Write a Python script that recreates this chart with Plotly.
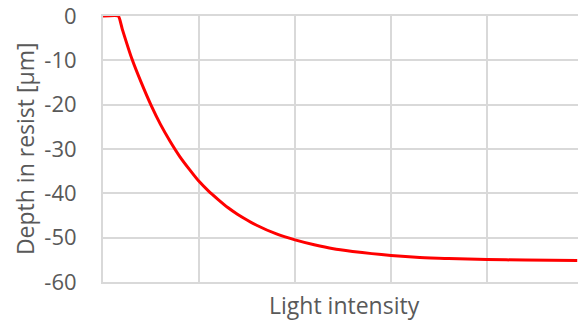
import plotly.graph_objects as go

# Depth profile of exposure in the resist versus light intensity
intensity = [0.0, 0.16, 0.2, 0.3, 0.4, 0.5, 0.6, 0.7, 0.8, 0.9, 1.0, 1.1, 1.2, 1.3, 1.4,
             1.5, 1.6, 1.8, 2.0, 2.2, 2.4, 2.6, 2.8, 3.0, 3.3, 3.6, 4.0, 4.4, 4.94]
depth = [0.0, 0.0, -2.9, -9.6, -15.1, -20.1, -24.5, -28.3, -31.7, -34.6, -37.3, -39.5,
         -41.4, -43.2, -44.7, -46.0, -47.2, -49.1, -50.5, -51.6, -52.5, -53.1, -53.6,
         -54.0, -54.5, -54.7, -54.95, -55.05, -55.15]

y_ticks = [-60, -50, -40, -30, -20, -10, 0]
y_labels = ["-60", "-50", "-40", "-30", "-20", "-10", "0"]

grid = "#D9D9D9"
text_col = "#595959"
font_family = "Open Sans, Liberation Sans, sans-serif"

fig = go.Figure()
fig.add_trace(go.Scatter(
    x=intensity, y=depth, mode="lines",
    line=dict(color="#FF0000", width=3, shape="spline", smoothing=0.4),
    cliponaxis=False, hoverinfo="skip", showlegend=False,
))

fig.update_layout(
    width=578, height=321,
    margin=dict(l=103, r=0, t=16, b=39),
    paper_bgcolor="white", plot_bgcolor="white",
    font=dict(family=font_family, color=text_col, size=22),
    xaxis=dict(
        range=[0, 4.948], tickmode="linear", dtick=1, tick0=0,
        showgrid=True, gridcolor=grid, gridwidth=2,
        zeroline=False, showticklabels=False, ticks="",
        # frame lines along the bottom (-60) and top (0) of the plot
        showline=True, mirror=True, linecolor=grid, linewidth=2,
        layer="below traces",
    ),
    yaxis=dict(
        range=[-60, 0], tickmode="array", tickvals=y_ticks, ticktext=y_labels,
        showgrid=True, gridcolor=grid, gridwidth=2,
        zeroline=False,
        showline=True, linecolor=grid, linewidth=2, layer="below traces",
        ticks="outside", ticklen=20, tickcolor="rgba(0,0,0,0)",
        ticklabeloverflow="allow",
        tickfont=dict(size=22, color=text_col),
    ),
    annotations=[
        dict(text="Light intensity", xref="paper", yref="paper",
             x=0.508, y=-0.086, xanchor="center", yanchor="middle",
             showarrow=False, font=dict(size=23, color=text_col)),
        dict(text="Depth in resist [µm]", xref="paper", yref="paper",
             x=-0.164, y=0.5, xanchor="center", yanchor="middle", textangle=-90,
             showarrow=False, font=dict(size=23, color=text_col)),
    ],
)

fig.write_html("out.html")
